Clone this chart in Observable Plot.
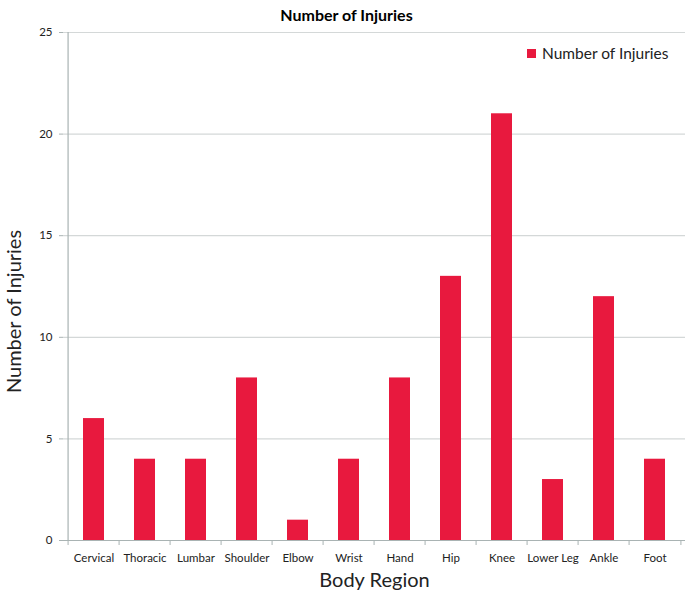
<!DOCTYPE html>
<html><head><meta charset="utf-8">
<script src="https://cdn.jsdelivr.net/npm/d3@7"></script>
<script src="https://cdn.jsdelivr.net/npm/@observablehq/plot@0.6"></script>
<style>
body{margin:0;background:#fff;font-family:Lato,sans-serif;}
#wrap{position:relative;width:693px;height:593px;}
#title{height:28px;text-align:center;font-weight:bold;font-size:16px;line-height:29px;color:#000;}
#legend{position:absolute;left:527px;top:45px;font-size:15.5px;line-height:16px;color:#222;display:flex;align-items:center;}
#legend .sw{display:inline-block;width:9px;height:9px;background:#e8193e;margin-right:6px;}
</style></head><body>
<div id="wrap"><div id="title">Number of Injuries</div><div id="chart"></div><div id="legend"><span class="sw"></span>Number of Injuries</div></div>
<script>
const regions = ["Cervical","Thoracic","Lumbar","Shoulder","Elbow","Wrist","Hand","Hip","Knee","Lower Leg","Ankle","Foot"];
const injuries = [6,4,4,8,1,4,8,13,21,3,12,4];
const yTicks = [0,5,10,15,20,25];
const data = regions.map((r,i)=>({region:r, count:injuries[i]}));
const W=693,H=565,ml=63,mr=8,mt=4,mb=53;
const step=(W-ml-mr)/regions.length;
const axisColor="#a9b3b3";
const chart = Plot.plot({
  width:W,height:H,marginLeft:ml,marginRight:mr,marginTop:mt,marginBottom:mb,
  style:{fontFamily:"Lato, sans-serif", fontSize:"11.5px", color:"#222", background:"#fff", overflow:"visible"},
  x:{domain:regions, paddingInner:0.595, paddingOuter:0.2975, label:null},
  y:{domain:[0,25], label:null},
  marks:[
    Plot.gridY(yTicks,{stroke:"#d4d8d8",strokeOpacity:1,strokeWidth:1.2}),
    Plot.barY(data,{x:"region",y:"count",fill:"#e8193e"}),
    Plot.axisY(yTicks,{tickSize:4,tickPadding:7,stroke:axisColor,label:null}),
    Plot.ruleX([regions[0]],{dx:-step/2,stroke:axisColor,strokeWidth:1.2}),
    Plot.ruleY([0],{stroke:axisColor,strokeWidth:1.2}),
    Plot.axisX({tickSize:0,tickPadding:13,label:null}),
    Plot.axisX({tickSize:5,tickFormat:()=>"",dx:-step/2,stroke:axisColor,label:null}),
    Plot.axisX([regions[regions.length-1]],{tickSize:5,tickFormat:()=>"",dx:step/2,stroke:axisColor,label:null}),
    Plot.text(["Body Region"],{text:d=>d,frameAnchor:"bottom",dy:46,fontSize:20,fill:"#222"}),
    Plot.text(["Number of Injuries"],{text:d=>d,frameAnchor:"left",textAnchor:"middle",rotate:-90,dx:-49,dy:25,fontSize:20,fill:"#222"})
  ]
});
document.getElementById("chart").appendChild(chart);
</script>
</body></html>
